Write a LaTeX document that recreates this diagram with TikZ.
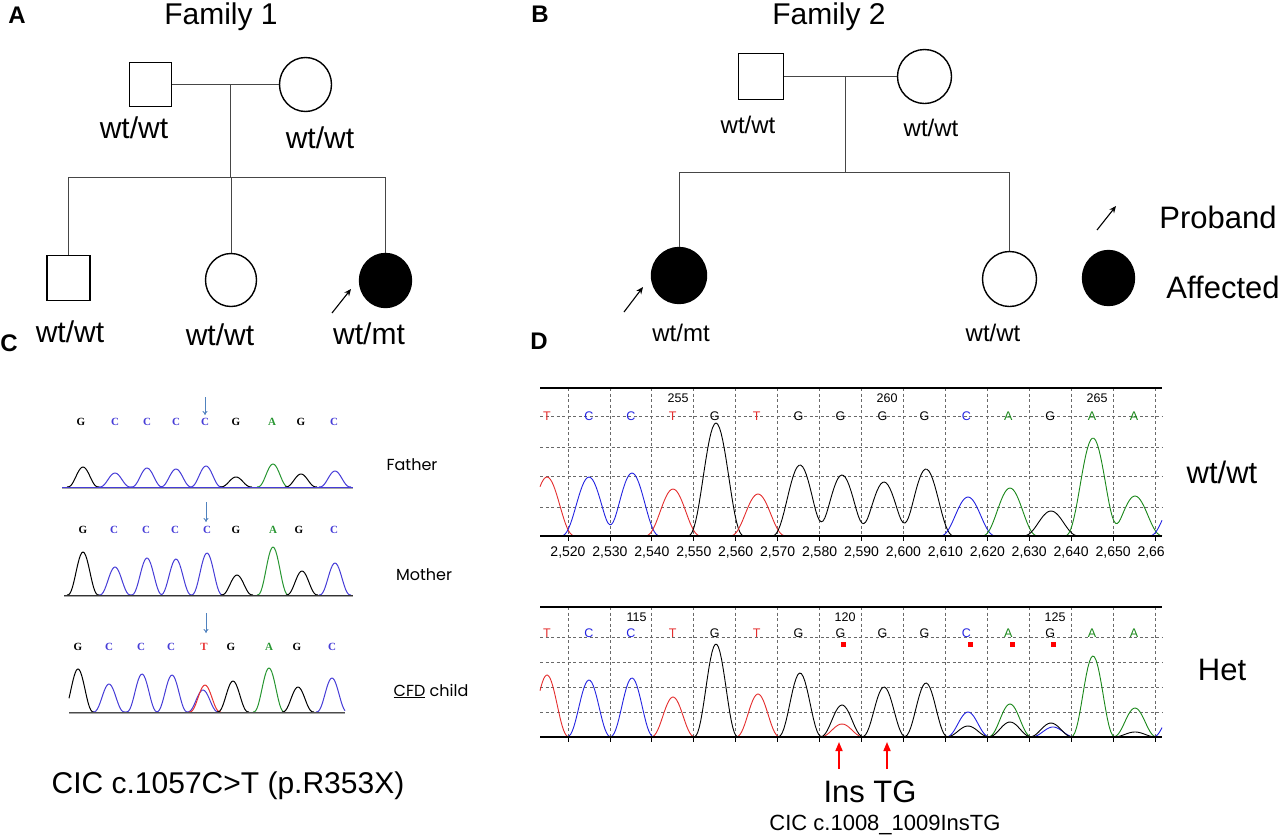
\documentclass[tikz,border=0pt]{standalone}
\usepackage{fontspec}
\setmainfont{Liberation Sans}
\newfontfamily\serfont{Liberation Serif}
\newfontfamily\geofont{Poppins}
\usetikzlibrary{shapes.geometric,arrows.meta}
\definecolor{tred}{RGB}{228,45,45}
\definecolor{tblue}{RGB}{35,35,225}
\definecolor{tgreen}{RGB}{25,135,25}
\definecolor{cblue}{RGB}{70,60,215}
\definecolor{cgreen}{RGB}{40,150,50}
\definecolor{cred}{RGB}{232,50,50}
\definecolor{arrblue}{RGB}{80,130,190}
\definecolor{gridc}{RGB}{105,105,105}
\definecolor{linec}{RGB}{70,70,70}
\newcommand\fsz[1]{\fontsize{#1}{#1}\selectfont}
\tikzset{
  declare function={
    qq(\pa,\pb,\pc)=max(0,1-((\pa-\pb)/\pc)*((\pa-\pb)/\pc));
    pk(\pa,\pb,\pc)=qq(\pa,\pb,\pc)*qq(\pa,\pb,\pc)*qq(\pa,\pb,\pc);
  },
  male/.style={draw, line width=1.4pt, rectangle, inner sep=0pt, fill=white},
  female/.style={draw, line width=1.4pt, ellipse, inner sep=0pt, fill=white},
  affected/.style={fill=black},
  rel/.style={draw=linec, line width=0.9pt},
  proband/.style={-{Stealth[length=7pt,width=6pt]}, line width=1.1pt},
  panel/.style={font=\bfseries\fsz{24}},
  fam/.style={font=\fsz{30}},
  gtA/.style={font=\fsz{30}},
  gtB/.style={font=\fsz{24}},
  big/.style={font=\fsz{31}},
  grid/.style={draw=gridc, line width=0.8pt, dash pattern=on 3pt off 2.5pt},
  tr/.style={line width=0.9pt, line join=round},
  ctr/.style={line width=1pt, line join=round},
  cbase/.style={draw=gray!70, line width=1.8pt},
  clet/.style={font=\serfont\bfseries\fsz{11}},
  dlet/.style={font=\fsz{12.5}},
  dnum/.style={font=\fsz{12.5}, anchor=east},
  rel3/.style={font=\geofont\fsz{16}},
  carr/.style={-{To[length=4pt,width=5pt]}, arrblue, line width=0.9pt},
  redarr/.style={-{Triangle[length=9pt,width=7pt]}, red, line width=1.6pt},
}
\begin{document}
\begin{tikzpicture}[x=1pt,y=-1pt]
\useasboundingbox (0,0) rectangle (1280,839);

% ---------------- Panel A ----------------
\node[panel] (labA) at (17,15) {A};
\node[fam] (fam1) at (221,17) {Family 1};
\node[male, minimum width=42pt, minimum height=44pt] (af) at (150.5,84.5) {};
\node[female, minimum width=52pt, minimum height=54pt] (am) at (305.5,84.5) {};
\draw[rel] (af.east) -- (am.west);
\coordinate (amid) at (230,84.5);
\coordinate (asib) at (230,177);
\draw[rel] (amid) -- (asib);
\node[male, minimum width=43pt, minimum height=45pt] (ac1) at (68.5,278) {};
\node[female, minimum width=51pt, minimum height=53pt] (ac2) at (231,280) {};
\node[female, affected, minimum width=52pt, minimum height=54pt] (ac3) at (385.5,280.5) {};
\draw[rel] (ac1.north |- asib) -- (ac3.north |- asib);
\foreach \cn in {ac1,ac2,ac3} \draw[rel] (\cn.north |- asib) -- (\cn.north);
\node[gtA] (gaf) at (134,128) {wt/wt};
\node[gtA] (gam) at (320,138) {wt/wt};
\node[gtA] (gac1) at (70,332) {wt/wt};
\node[gtA] (gac2) at (220,335) {wt/wt};
\node[gtA] (gac3) at (369,334) {wt/mt};
\coordinate (aps) at (332,313);
\coordinate (ape) at (351,289);
\draw[proband] (aps) -- (ape);

% ---------------- Panel B ----------------
\node[panel] (labB) at (540,14) {B};
\node[fam] (fam2) at (829,17) {Family 2};
\node[male, minimum width=45pt, minimum height=46pt] (bf) at (761,76.5) {};
\node[female, minimum width=54pt, minimum height=54pt] (bm) at (924.5,76.5) {};
\draw[rel] (bf.east) -- (bm.west);
\coordinate (bmid) at (845,76.5);
\coordinate (bsib) at (845,172);
\draw[rel] (bmid) -- (bsib);
\node[female, affected, minimum width=55pt, minimum height=56pt] (bc1) at (679,275.5) {};
\node[female, minimum width=54pt, minimum height=55pt] (bc2) at (1009.5,279) {};
\draw[rel] (bc1.north |- bsib) -- (bc2.north |- bsib);
\foreach \cn in {bc1,bc2} \draw[rel] (\cn.north |- bsib) -- (\cn.north);
\node[gtB] (gbf) at (748,125) {wt/wt};
\node[gtB] (gbm) at (931,128) {wt/wt};
\node[gtB] (gbc1) at (681,333) {wt/mt};
\node[gtB] (gbc2) at (993,333) {wt/wt};
\coordinate (bps) at (624,312);
\coordinate (bpe) at (643,287);
\draw[proband] (bps) -- (bpe);

% legend
\coordinate (lps) at (1097,230);
\coordinate (lpe) at (1116,206);
\draw[proband] (lps) -- (lpe);
\node[big] (lprob) at (1218,217) {Proband};
\node[female, affected, minimum width=52pt, minimum height=55pt] (laff) at (1108.5,278) {};
\node[big] (laffl) at (1223,287) {Affected};

% ---------------- Panel C ----------------
\node[panel] (labC) at (9,343) {C};
% father
\foreach \xx/\ll/\cc [count=\i] in {81/G/black,115/C/cblue,147/C/cblue,176/C/cblue,205/C/cblue,236/G/black,272/A/cgreen,301/G/black,334/C/cblue}
  \node[clet, text=\cc] (cfl\i) at (\xx,422) {\ll};
\coordinate (cfa1) at (205,397); \coordinate (cfa2) at (205,415);
\draw[carr] (cfa1) -- (cfa2);
\draw[cbase] (62,488) -- (353,488);
\draw[ctr] plot[domain=67:99, samples=25] (\x, {487-20*pk(\x,83,16)});
\draw[ctr, cblue] plot[domain=99:222, samples=90] (\x, {487-14*pk(\x,115,16)-19*pk(\x,147,16)-18*pk(\x,176,16)-21*pk(\x,206,16)});
\draw[ctr] plot[domain=220:252, samples=25] (\x, {487-10*pk(\x,236,16)});
\draw[ctr, cgreen] plot[domain=257:289, samples=25] (\x, {487-23*pk(\x,273,16)});
\draw[ctr] plot[domain=285:317, samples=25] (\x, {487-13*pk(\x,301,16)});
\draw[ctr, cblue] plot[domain=319:351, samples=25] (\x, {487-16*pk(\x,335,16)});
\draw[cblue, line width=0.6pt] (62,487) -- (353,487);
\node[rel3] (cfat) at (412,465) {Father};
% mother
\foreach \xx/\ll/\cc [count=\i] in {83/G/black,114/C/cblue,146/C/cblue,175/C/cblue,207/C/cblue,236/G/black,273/A/cgreen,299/G/black,334/C/cblue}
  \node[clet, text=\cc] (cml\i) at (\xx,530) {\ll};
\coordinate (cma1) at (206,502); \coordinate (cma2) at (206,522);
\draw[carr] (cma1) -- (cma2);
\draw[cbase] (64,596) -- (353,596);
\draw[ctr] plot[domain=67:99, samples=25] (\x, {595-43*pk(\x,83,16)});
\draw[ctr, cblue] plot[domain=99:223, samples=90] (\x, {595-28*pk(\x,115,16)-37*pk(\x,147,16)-36*pk(\x,176,16)-42*pk(\x,207,16)});
\draw[ctr] plot[domain=221:253, samples=25] (\x, {595-20*pk(\x,237,16)});
\draw[ctr, cgreen] plot[domain=257:289, samples=25] (\x, {595-48*pk(\x,273,16)});
\draw[ctr] plot[domain=286:318, samples=25] (\x, {595-24*pk(\x,302,16)});
\draw[ctr, cblue] plot[domain=319:351, samples=25] (\x, {595-32*pk(\x,335,16)});
\draw[black!80, line width=0.6pt] (64,595) -- (353,595);
\node[rel3] (cmot) at (424,575) {Mother};
% child
\foreach \xx/\ll/\cc [count=\i] in {78/G/black,109/C/cblue,141/C/cblue,171/C/cblue,204/T/cred,231/G/black,269/A/cgreen,297/G/black,332/C/cblue}
  \node[clet, text=\cc] (ccl\i) at (\xx,647) {\ll};
\coordinate (cca1) at (206,613); \coordinate (cca2) at (206,633);
\draw[carr] (cca1) -- (cca2);
\draw[cbase] (69,713) -- (345,713);
\draw[ctr] plot[domain=69:94, samples=25] (\x, {712-43*pk(\x,78,16)});
\draw[ctr, cblue] plot[domain=93:219, samples=90] (\x, {712-28*pk(\x,109,16)-38*pk(\x,142,16)-37*pk(\x,172,16)-22*pk(\x,203,16)});
\draw[ctr, cred] plot[domain=189:221, samples=25] (\x, {712-27*pk(\x,205,16)});
\draw[ctr] plot[domain=217:249, samples=25] (\x, {712-31*pk(\x,233,16)});
\draw[ctr, cgreen] plot[domain=253:285, samples=25] (\x, {712-44*pk(\x,269,16)});
\draw[ctr] plot[domain=282:314, samples=25] (\x, {712-25*pk(\x,298,16)});
\draw[ctr, cblue] plot[domain=316:345, samples=25] (\x, {712-34*pk(\x,332,16)});
\draw[black!70, line width=0.6pt] (69,712) -- (345,712);
\node[rel3] (cchi) at (431,691) {\underline{CFD} child};
\node[font=\fsz{30}] (cmut) at (228,786) {CIC c.1057C>T (p.R353X)};

% ---------------- Panel D ----------------
\node[panel] (labD) at (539,341) {D};
% --- top chromatogram (wt/wt)
\foreach \k in {0,...,14} \draw[grid] ({568+41.93*\k},388) -- ({568+41.93*\k},536);
\foreach \yy in {416,447,476,507} \draw[grid] (540,\yy) -- (1162,\yy);
\draw[black, line width=1.5pt] (540,388) -- (1162,388);
\draw[tr, tred] plot[domain=540:576, samples=25] (\x, {536-59*pk(\x,547,29)});
\draw[tr, tblue] plot[domain=560:661, samples=60] (\x, {536-59*pk(\x,589,29)-63*pk(\x,632,29)});
\draw[tr, tred] plot[domain=644:702, samples=35] (\x, {536-47*pk(\x,673,29)});
\draw[tr] plot[domain=687:745, samples=35] (\x, {536-113*pk(\x,716,29)});
\draw[tr, tred] plot[domain=729:787, samples=35] (\x, {536-42*pk(\x,758,29)});
\draw[tr] plot[domain=771:955, samples=100] (\x, {536-71*pk(\x,800,29)-61*pk(\x,842,29)-54*pk(\x,884,29)-67*pk(\x,926,29)});
\draw[tr, tblue] plot[domain=939:997, samples=35] (\x, {536-39*pk(\x,968,29)});
\draw[tr, tgreen] plot[domain=981:1039, samples=35] (\x, {536-48*pk(\x,1010,29)});
\draw[tr] plot[domain=1022:1080, samples=35] (\x, {536-25*pk(\x,1051,29)});
\draw[tr, tgreen] plot[domain=1064:1162, samples=60] (\x, {536-98*pk(\x,1093,29)-40*pk(\x,1135,29)});
\draw[tr, tblue] plot[domain=1150:1162, samples=10] (\x, {536-40*pk(\x,1177,29)});
\draw[black, line width=2pt] (540,536) -- (1162,536);
\foreach \k in {0,...,14} \draw[black, line width=0.8pt] ({568+41.93*\k},536) -- ({568+41.93*\k},541);
\foreach \ll/\cc [count=\i from 0] in {T/tred,C/tblue,C/tblue,T/tred,G/black,T/tred,G/black,G/black,G/black,G/black,C/tblue,A/tgreen,G/black,A/tgreen,A/tgreen}
  \node[dlet, text=\cc] (dtl\i) at ({547+41.93*\i},416) {\ll};
\node[dnum] (dn255) at (692,398) {255};
\node[dnum] (dn260) at (901,398) {260};
\node[dnum] (dn265) at (1111,398) {265};
\begin{scope}
  \clip (535,540) rectangle (1164,565);
  \foreach \k in {0,...,14} {
    \pgfmathtruncatemacro\vv{520+10*\k}
    \node[font=\fsz{14}] (ax\k) at ({568+41.93*\k},552) {2,\vv};
  }
\end{scope}
\node[big] (dwt) at (1222,472) {wt/wt};

% --- bottom chromatogram (Het)
\foreach \k in {0,...,14} \draw[grid] ({568+41.93*\k},607) -- ({568+41.93*\k},737);
\foreach \yy in {637,662,687,712} \draw[grid] (540,\yy) -- (1162,\yy);
\draw[black, line width=1.5pt] (540,607) -- (1162,607);
\draw[tr, tred] plot[domain=540:570, samples=25] (\x, {737-62*pk(\x,547,23)});
\draw[tr, tblue] plot[domain=566:655, samples=60] (\x, {737-57*pk(\x,589,23)-59*pk(\x,632,23)});
\draw[tr, tred] plot[domain=650:696, samples=30] (\x, {737-40*pk(\x,673,23)});
\draw[tr] plot[domain=693:739, samples=30] (\x, {737-93*pk(\x,716,23)});
\draw[tr, tred] plot[domain=735:781, samples=30] (\x, {737-43*pk(\x,758,23)});
\draw[tr, tred] plot[domain=819:865, samples=30] (\x, {737-13*pk(\x,842,23)});
\draw[tr] plot[domain=777:949, samples=100] (\x, {737-64*pk(\x,800,23)-32*pk(\x,842,23)-50*pk(\x,884,23)-54*pk(\x,926,23)});
\draw[tr, tblue] plot[domain=945:991, samples=30] (\x, {737-25*pk(\x,968,23)});
\draw[tr, tblue] plot[domain=1030:1076, samples=30] (\x, {737-10*pk(\x,1053,23)});
\draw[tr, tgreen] plot[domain=987:1033, samples=30] (\x, {737-33*pk(\x,1010,23)});
\draw[tr] plot[domain=945:1074, samples=70] (\x, {737-11*pk(\x,968,23)-15*pk(\x,1010,23)-14*pk(\x,1051,23)});
\draw[tr, tgreen] plot[domain=1070:1158, samples=55] (\x, {737-81*pk(\x,1093,23)-29*pk(\x,1135,23)});
\draw[tr] plot[domain=1112:1158, samples=30] (\x, {737-5*pk(\x,1135,23)});
\draw[tr, tblue] plot[domain=1150:1162, samples=10] (\x, {737-30*pk(\x,1175,23)});
\draw[black, line width=2pt] (540,737) -- (1162,737);
\foreach \k in {0,...,14} \draw[black, line width=0.8pt] ({568+41.93*\k},737) -- ({568+41.93*\k},742);
\foreach \ll/\cc [count=\i from 0] in {T/tred,C/tblue,C/tblue,T/tred,G/black,T/tred,G/black,G/black,G/black,G/black,C/tblue,A/tgreen,G/black,A/tgreen,A/tgreen}
  \node[dlet, text=\cc] (dbl\i) at ({547+41.93*\i},633) {\ll};
\node[dnum] (dn115) at (650,617) {115};
\node[dnum] (dn120) at (859,617) {120};
\node[dnum] (dn125) at (1069,617) {125};
\foreach \xx [count=\i] in {843,970,1012,1053}
  \node[fill=red, minimum size=5pt, inner sep=0pt] (rsq\i) at (\xx,644) {};
\node[big] (dhet) at (1222,670) {Het};
\coordinate (ra1s) at (839,769); \coordinate (ra1e) at (839,742);
\coordinate (ra2s) at (887,769); \coordinate (ra2e) at (887,742);
\draw[redarr] (ra1s) -- (ra1e);
\draw[redarr] (ra2s) -- (ra2e);
\node[big] (dins) at (870,792) {Ins TG};
\node[font=\fsz{22}] (dmut) at (885,825) {CIC c.1008\_1009InsTG};
\end{tikzpicture}
\end{document}
